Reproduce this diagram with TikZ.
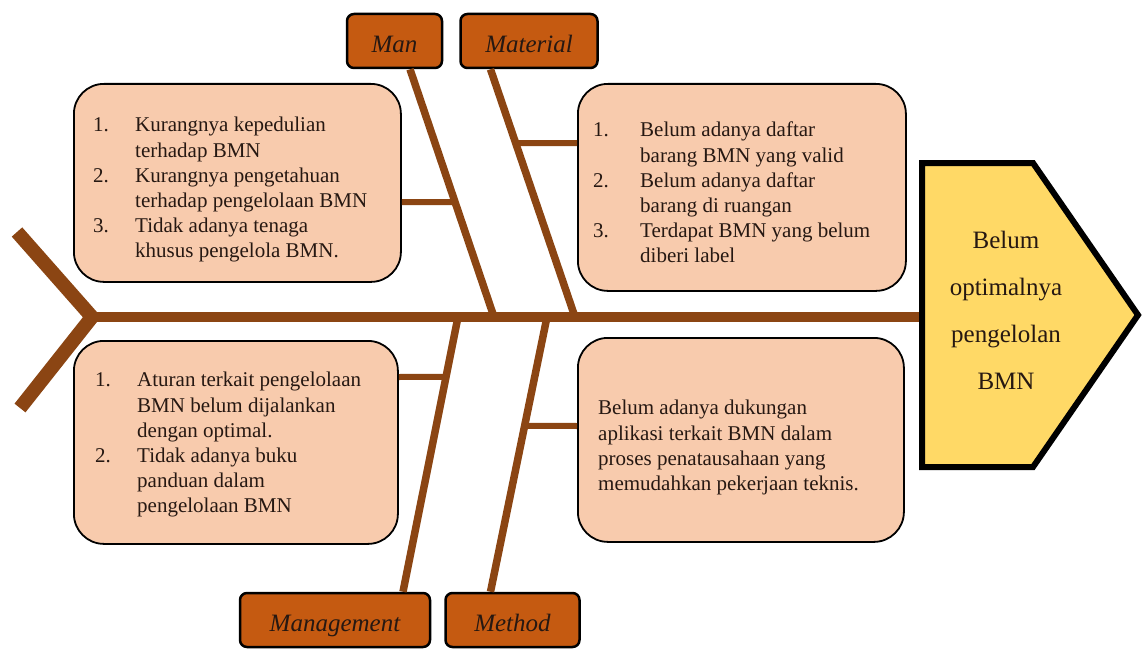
\documentclass[tikz,border=0pt]{standalone}
\usepackage{fontspec}
\setmainfont{Liberation Serif}
\usepackage{tikz}
\usetikzlibrary{positioning}
\usetikzlibrary{calc}

\definecolor{fishbrown}{RGB}{139,69,19}
\definecolor{peach}{RGB}{248,203,173}
\definecolor{rust}{RGB}{197,90,17}
\definecolor{gold}{RGB}{255,217,102}
\definecolor{ink}{RGB}{38,24,18}

\begin{document}
\begin{tikzpicture}[x=1pt, y=-1pt,
    spine/.style={fishbrown, line width=10pt},
    bone/.style={fishbrown, line width=7.5pt},
    twig/.style={fishbrown, line width=6pt},
    causebox/.style={draw=black, line width=1.8pt, fill=peach, rounded corners=30pt, anchor=north west, inner sep=0pt},
    causetext/.style={anchor=north west, inner sep=0pt, text=ink, font=\fontsize{21}{25.2}\selectfont},
    catbox/.style={draw=black, line width=2.5pt, fill=rust, rounded corners=7pt, minimum height=54pt, inner sep=0pt, text height=23pt, text depth=0pt, text=ink, font=\fontsize{25}{30}\selectfont\itshape}]

    \useasboundingbox (0,0) rectangle (1143,650);

    % categories
    \node[catbox, minimum width=95pt] (man) at (394.5,41) {Man};
    \node[catbox, minimum width=137pt, right=16pt of man] (material) {Material};
    \node[catbox, minimum width=190pt] (management) at (335,620) {Management};
    \node[catbox, minimum width=134pt, right=13pt of management] (method) {Method};

    % causes
    \node[causebox, minimum width=327pt, minimum height=198pt] (causeman) at (73,83) {};
    \node[causebox, minimum width=328pt, minimum height=207pt] (causemat) at (577,83) {};
    \node[causebox, minimum width=324pt, minimum height=203pt] (causemgt) at (73,340) {};
    \node[causebox, minimum width=326pt, minimum height=204pt] (causemtd) at (577,337) {};

    \node[causetext] (textman) at ([shift={(20,31)}]causeman.north west) {%
        \begin{tabular}{@{}p{42pt}@{}l@{}}
        1. & Kurangnya kepedulian\\
           & terhadap BMN\\
        2. & Kurangnya pengetahuan\\
           & terhadap pengelolaan BMN\\
        3. & Tidak adanya tenaga\\
           & khusus pengelola BMN.
        \end{tabular}};
    \node[causetext] (textmat) at ([shift={(16,36)}]causemat.north west) {%
        \begin{tabular}{@{}p{47pt}@{}l@{}}
        1. & Belum adanya daftar\\
           & barang BMN yang valid\\
        2. & Belum adanya daftar\\
           & barang di ruangan\\
        3. & Terdapat BMN yang belum\\
           & diberi label
        \end{tabular}};
    \node[causetext] (textmgt) at ([shift={(22,29)}]causemgt.north west) {%
        \begin{tabular}{@{}p{42pt}@{}l@{}}
        1. & Aturan terkait pengelolaan\\
           & BMN belum dijalankan\\
           & dengan optimal.\\
        2. & Tidak adanya buku\\
           & panduan dalam\\
           & pengelolaan BMN
        \end{tabular}};
    \node[causetext] (textmtd) at ([shift={(21,60)}]causemtd.north west) {%
        \begin{tabular}{@{}l@{}}
        Belum adanya dukungan\\
        aplikasi terkait BMN dalam\\
        proses penatausahaan yang\\
        memudahkan pekerjaan teknis.
        \end{tabular}};

    % spine points
    \coordinate (tail) at (92,317);
    \coordinate (tailup) at (17,232);
    \coordinate (taildown) at (20,408);
    \coordinate (hd) at (922,317);
    \coordinate (manj) at (494,317);
    \coordinate (matj) at (575,317);
    \coordinate (mgtj) at (458,317);
    \coordinate (mtdj) at (547,317);

    \coordinate (mantop) at ([xshift=15.5pt]man.south);
    \coordinate (mattop) at ([xshift=-38.5pt]material.south);
    \coordinate (mgtfoot) at ([xshift=68pt]management.north);
    \coordinate (mtdfoot) at ([xshift=-22pt]method.north);

    % bones
    \draw[bone] (mantop) -- (manj);
    \draw[bone] (mattop) -- (matj);
    \draw[bone] (mgtfoot) -- (mgtj);
    \draw[bone] (mtdfoot) -- (mtdj);

    \draw[twig] ($(causeman.north east)+(0,119)$) -- ($(mantop)!0.536!(manj)$);
    \draw[twig] ($(causemat.north west)+(0,60)$) -- ($(mattop)!0.298!(matj)$);
    \draw[twig] ($(causemgt.north east)+(0,37)$) -- ($(mgtj)!0.218!(mgtfoot)$);
    \draw[twig] ($(causemtd.north west)+(0,89)$) -- ($(mtdj)!0.396!(mtdfoot)$);

    % spine and tail
    \draw[spine, line width=14pt, line join=miter] (tailup) -- (tail) -- (taildown);
    \draw[spine] (tail) -- (hd);

    % head
    \draw[black, line width=6pt, fill=gold, line join=miter]
        (922,163) -- (1033,163) -- (1138,315) -- (1033,467) -- (922,467) -- cycle;
    \node[align=center, text=ink, font=\fontsize{25}{47}\selectfont] (effect) at (1006,310)
        {Belum\\optimalnya\\pengelolan\\BMN};

\end{tikzpicture}
\end{document}
